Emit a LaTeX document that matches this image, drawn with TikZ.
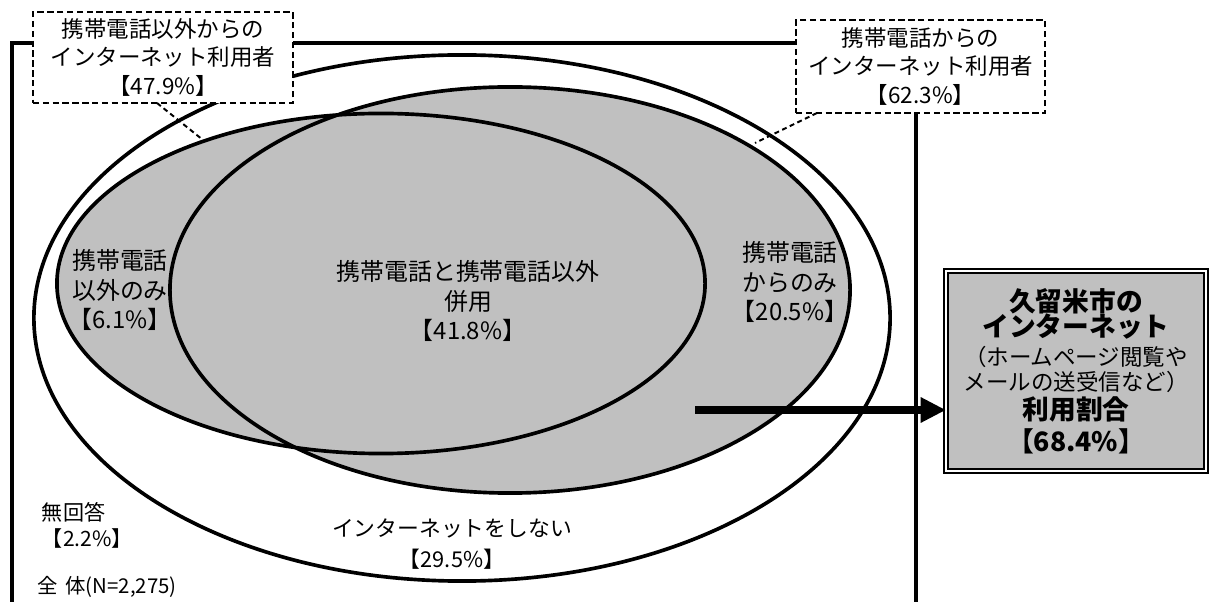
\documentclass[tikz,border=0pt]{standalone}
\usepackage{fontspec}
\setmainfont{Noto Sans CJK JP}
\usetikzlibrary{arrows.meta}
\definecolor{venngray}{RGB}{192,192,192}

\begin{document}
\begin{tikzpicture}[x=0.025cm, y=-0.025cm,
  every node/.style={inner sep=0pt, outer sep=0pt, align=center},
  label17/.style={font=\fontsize{17}{21}\selectfont},
  dashbox/.style={draw, fill=white, line width=1.8pt, dash pattern=on 4.5pt off 2.5pt, font=\fontsize{16}{20.5}\selectfont},
  leader/.style={line width=1.4pt, dash pattern=on 3.5pt off 2.5pt},
  outline/.style={line width=2.6pt}]
\useasboundingbox (0,0) rectangle (1211,602);

\draw[line width=2.5pt] (12,610) -- (12,43) -- (916,43) -- (916,610);

\fill[white] (462,318) ellipse [x radius=10.7cm, y radius=6.575cm];
\draw[outline] (462,318) ellipse [x radius=10.7cm, y radius=6.575cm];
\fill[venngray] (381,283.5) ellipse [x radius=8.1cm, y radius=4.25cm];
\fill[venngray] (510,290) ellipse [x radius=8.5cm, y radius=5.075cm];
\draw[outline] (381,283.5) ellipse [x radius=8.1cm, y radius=4.25cm];
\draw[outline] (510,290) ellipse [x radius=8.5cm, y radius=5.075cm];

\node[label17] (pconly) at (120,290) {携帯電話\\以外のみ\\【6.1\%】};
\node[label17] (both) at (468,301) {携帯電話と携帯電話以外\\併用\\【41.8\%】};
\node[label17] (mobonly) at (790,282) {携帯電話\\からのみ\\【20.5\%】};
\node[font=\fontsize{15.5}{22.5}\selectfont] (nonet) at (452,544) {インターネットをしない\\【29.5\%】};
\node[font=\fontsize{15}{18.5}\selectfont, anchor=west, align=left] (noans) at (42,525) {無回答\\【2.2\%】};
\node[font=\fontsize{14.5}{17}\selectfont, anchor=west] (total) at (37,587) {全\hspace{0.4em}体(N=2,275)};

\node[draw, fill=venngray, line width=1.4pt, double, double distance=1pt, minimum width=6.5cm, minimum height=5cm] (result) at (1076,371)
  {\bfseries\fontsize{19}{24}\selectfont 久留米市の\\[-1.4pt]
   \bfseries\fontsize{19}{24}\selectfont インターネット\\[4pt]
   \mdseries\fontsize{16}{24}\selectfont （ホームページ閲覧や\\[2pt]
   \mdseries\fontsize{16}{24}\selectfont メールの送受信など）\\[2pt]
   \bfseries\fontsize{19}{24}\selectfont 利用割合\\[3pt]
   \bfseries\fontsize{19}{24}\selectfont 【68.4\%】};
\coordinate (arrowstart) at (695,410);
\draw[line width=6pt, -{Triangle[length=18pt, width=17pt]}] (arrowstart) -- (arrowstart -| result.west);

\node[dashbox, minimum width=6.5cm, minimum height=2.275cm] (pcbox) at (163,57.5) {携帯電話以外からの\\インターネット利用者\\【47.9\%】};
\node[dashbox, minimum width=6.225cm, minimum height=2.325cm] (mobbox) at (920.5,66.5) {携帯電話からの\\インターネット利用者\\【62.3\%】};
\coordinate (pcend) at (203,140);
\coordinate (mobend) at (755,143);
\draw[leader] ([xshift=3.1cm]pcbox.south west) -- (pcend);
\draw[leader] ([xshift=0.525cm]mobbox.south west) -- (mobend);
\end{tikzpicture}
\end{document}
